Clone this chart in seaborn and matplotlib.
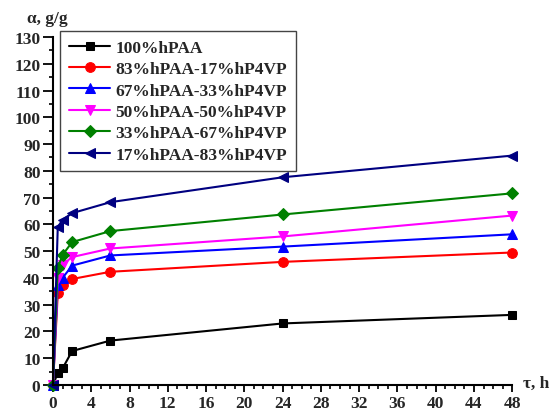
import pandas as pd
import matplotlib
matplotlib.use("Agg")
import matplotlib.pyplot as plt
import seaborn as sns
from matplotlib.ticker import MultipleLocator

# time points, h
t = [0, 0.5, 1, 2, 6, 24, 48]

# swelling degree, g/g
s100 = [0, 4.5, 6.2, 12.7, 16.6, 23.0, 26.2]
s83 = [0, 34.2, 37.2, 39.6, 42.3, 46.0, 49.5]
s67 = [0, 37.3, 40.0, 44.6, 48.4, 51.7, 56.3]
s50 = [0, 40.0, 45.0, 47.8, 51.0, 55.5, 63.3]
s33 = [0, 43.7, 48.6, 53.4, 57.5, 63.7, 71.6]
s17 = [0, 59.0, 61.7, 64.2, 68.3, 77.6, 85.7]

labels = ['100%hPAA', '83%hPAA-17%hP4VP', '67%hPAA-33%hP4VP',
          '50%hPAA-50%hP4VP', '33%hPAA-67%hP4VP', '17%hPAA-83%hP4VP']
series = [s100, s83, s67, s50, s33, s17]
colors = ['black', 'red', 'blue', 'magenta', 'green', 'navy']
markers = ['s', 'o', '^', 'v', 'D', '<']
msizes = [6, 7, 7, 7, 6, 7]

sns.set_style("white")
plt.rcParams['font.family'] = ['Liberation Serif', 'DejaVu Serif']
plt.rcParams['font.weight'] = 'bold'

fig = plt.figure(figsize=(5.56, 4.14), dpi=100)
ax = fig.add_axes([0.0953, 0.0676, 0.826, 0.8406])

for lab, ys, c, m, ms in zip(labels, series, colors, markers, msizes):
    df = pd.DataFrame({'t': t, 'a': ys})
    sns.lineplot(data=df, x='t', y='a', ax=ax, color=c, marker=m, markersize=ms,
                 markeredgecolor=c, linewidth=1.5, label=lab, sort=False, clip_on=False)

ax.set_xlim(0, 48)
ax.set_ylim(0, 130)
ax.xaxis.set_major_locator(MultipleLocator(4))
ax.xaxis.set_minor_locator(MultipleLocator(1))
ax.yaxis.set_major_locator(MultipleLocator(10))
ax.yaxis.set_minor_locator(MultipleLocator(5))
ax.tick_params(axis='both', which='major', direction='out', width=1.3,
               labelsize=12.5, bottom=True, left=True, color='black', pad=2)
ax.tick_params(axis='x', which='major', length=5)
ax.tick_params(axis='y', which='major', length=7)
ax.tick_params(axis='both', which='minor', direction='out', length=3, width=1.2,
               bottom=True, left=True, color='black')
for lbl in ax.get_xticklabels() + ax.get_yticklabels():
    lbl.set_fontweight('bold')

sns.despine(ax=ax)
for sp in ['left', 'bottom']:
    ax.spines[sp].set_linewidth(1.5)
    ax.spines[sp].set_color('black')

ax.set_xlabel('')
ax.set_ylabel('')
fig.text(27 / 556, 1 - 19 / 414, 'α, g/g', fontsize=12.5, fontweight='bold', va='center', ha='left')
fig.text(523 / 556, 1 - 384 / 414, 'τ, h', fontsize=12.5, fontweight='bold', va='center', ha='left')

leg = ax.legend(loc='upper left', bbox_to_anchor=(60 / 556, 1 - 32 / 414),
                bbox_transform=fig.transFigure, frameon=True, borderaxespad=0,
                fancybox=False, edgecolor='#444444', handlelength=2.4,
                labelspacing=0.3, borderpad=0.5, handletextpad=0.3,
                prop={'weight': 'bold', 'size': 12.5})
leg.get_frame().set_linewidth(1.0)
leg.get_frame().set_alpha(1)

fig.savefig('out.png', dpi=100)
